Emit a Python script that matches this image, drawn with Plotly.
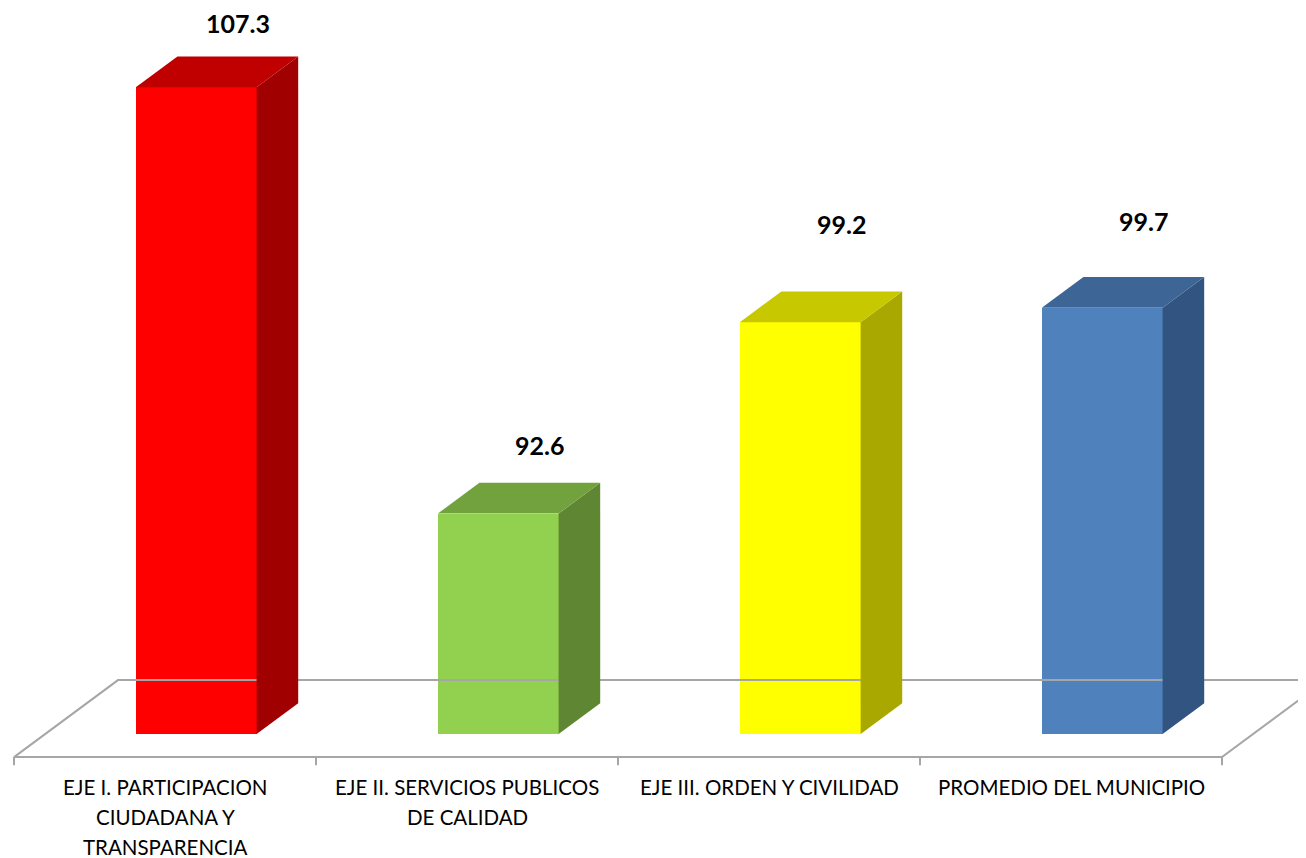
import plotly.graph_objects as go

categories = ["EJE I. PARTICIPACION<br>CIUDADANA Y<br>TRANSPARENCIA",
              "EJE II. SERVICIOS PUBLICOS<br>DE CALIDAD",
              "EJE III. ORDEN Y CIVILIDAD",
              "PROMEDIO DEL MUNICIPIO"]
values = [107.3, 92.6, 99.2, 99.7]
value_labels = ["107.3", "92.6", "99.2", "99.7"]

front_colors = ["#FF0000", "#92D050", "#FFFF00", "#4F81BD"]
top_colors = ["#C00000", "#72A23E", "#C8C800", "#3D6696"]
side_colors = ["#A00000", "#5F8733", "#A8A800", "#315480"]
label_yshift = [34, 38, 67, 56]

BASE = 85.0             # floor value
DX, DY = 0.3444, 2.655  # projection of full floor depth (x units, y units)
D_FRONT, D_BAR = 0.3, 0.4
BAR_W = 0.4
OFF = 8                 # page body margin
W, H = 1306 - OFF, 858 - OFF
PX_X = 302.0
PX_Y = 29.0
x0 = -0.5 - (14 - OFF) / PX_X
x1 = x0 + W / PX_X
y1 = BASE + (734 - OFF) / PX_Y
y0 = y1 - H / PX_Y

FONT = "Lato, Carlito, Calibri, sans-serif"

def proj(x, y, d):
    return x + d * DX, y + (d - D_FRONT) * DY

fig = go.Figure()
floor_col = "#A6A6A6"
n = len(categories)
fx, fy = [], []
pts = [(-0.5, 0), (n - 0.5, 0), (n - 0.5, 1), (-0.5, 1), (-0.5, 0)]
for (x, d) in pts:
    px, py = proj(x, BASE, d)
    fx.append(px); fy.append(py)
fig.add_trace(go.Scatter(x=fx, y=fy, mode="lines", line=dict(color=floor_col, width=2),
                         hoverinfo="skip", showlegend=False))
for k in range(n + 1):
    px, py = proj(k - 0.5, BASE, 0)
    fig.add_trace(go.Scatter(x=[px, px], y=[py, py - 0.28], mode="lines",
                             line=dict(color=floor_col, width=2), hoverinfo="skip", showlegend=False))

for i, v in enumerate(values):
    xl = i - BAR_W / 2 + D_FRONT * DX
    xr = i + BAR_W / 2 + D_FRONT * DX
    ddx, ddy = D_BAR * DX, D_BAR * DY
    fig.add_trace(go.Scatter(x=[xr, xr + ddx, xr + ddx, xr, xr],
                             y=[BASE, BASE + ddy, v + ddy, v, BASE],
                             fill="toself", fillcolor=side_colors[i], mode="lines",
                             line=dict(width=0, color=side_colors[i]), hoverinfo="skip", showlegend=False))
    fig.add_trace(go.Scatter(x=[xl, xr, xr + ddx, xl + ddx, xl],
                             y=[v, v, v + ddy, v + ddy, v],
                             fill="toself", fillcolor=top_colors[i], mode="lines",
                             line=dict(width=0, color=top_colors[i]), hoverinfo="skip", showlegend=False))
    fig.add_trace(go.Bar(x=[i + D_FRONT * DX], y=[v - BASE], base=BASE, width=BAR_W,
                         marker=dict(color=front_colors[i], line=dict(width=0)),
                         showlegend=False, hovertemplate=f"{v}<extra></extra>"))
    fig.add_annotation(x=i + D_FRONT * DX + ddx, y=v + ddy, text=f"<b>{value_labels[i]}</b>",
                       showarrow=False, yanchor="middle", yshift=label_yshift[i],
                       font=dict(family=FONT, size=25, color="#000000"))
    fpx, fpy = proj(i, BASE, 0)
    for j, line in enumerate(categories[i].split("<br>")):
        fig.add_annotation(x=fpx, y=fpy, text=line, showarrow=False, yanchor="middle",
                           yshift=-30 - 30 * j, align="center",
                           font=dict(family=FONT, size=20.5, color="#000000"))

fig.update_layout(
    width=W, height=H, margin=dict(l=0, r=0, t=0, b=0),
    paper_bgcolor="white", plot_bgcolor="white",
    xaxis=dict(range=[x0, x1], visible=False, fixedrange=True),
    yaxis=dict(range=[y0, y1], visible=False, fixedrange=True),
    bargap=0,
)
fig.write_html("out.html")
